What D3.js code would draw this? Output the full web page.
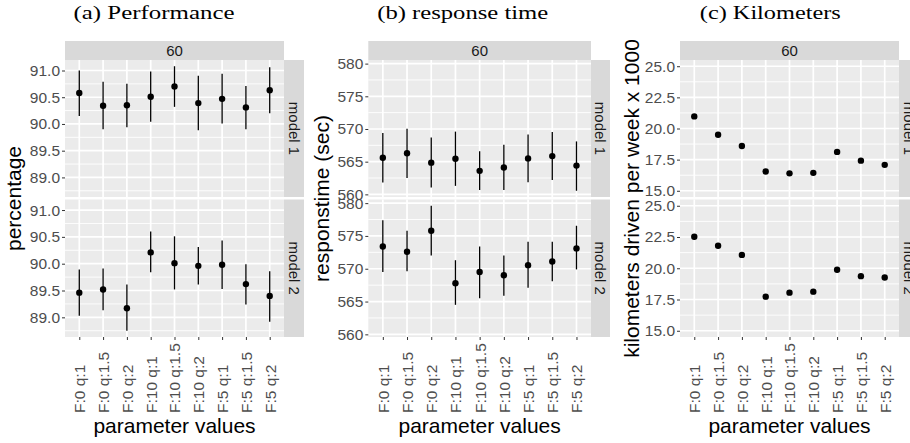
<!DOCTYPE html>
<html>
<head>
<meta charset="utf-8">
<script src="https://cdn.jsdelivr.net/npm/d3@7"></script>
<style>
  body { margin: 0; background: #fff; }
  svg { display: block; font-family: "Liberation Sans", Arial, sans-serif; }
</style>
</head>
<body>
<svg width="910" height="443"></svg>
<script>
// Data.

var categories = ['F:0 q:1', 'F:0 q:1.5', 'F:0 q:2', 'F:10 q:1', 'F:10 q:1.5', 'F:10 q:2', 'F:5 q:1', 'F:5 q:1.5', 'F:5 q:2'];
var models = ['model 1', 'model 2'];

var perfM1   = [90.58, 90.34, 90.35, 90.51, 90.70, 90.39, 90.47, 90.31, 90.63];
var perfM1Lo = [90.15, 89.90, 89.94, 90.04, 90.32, 89.88, 90.01, 89.90, 90.20];
var perfM1Hi = [91.00, 90.79, 90.75, 90.98, 91.08, 90.90, 90.94, 90.71, 91.06];
var perfM2   = [89.46, 89.52, 89.17, 90.21, 90.01, 89.96, 89.98, 89.62, 89.40];
var perfM2Lo = [89.03, 89.13, 88.75, 89.84, 89.52, 89.61, 89.53, 89.24, 88.92];
var perfM2Hi = [89.89, 89.91, 89.61, 90.60, 90.51, 90.31, 90.43, 89.99, 89.86];

var respM1   = [565.6, 566.3, 564.85, 565.45, 563.6, 564.1, 565.5, 565.85, 564.4];
var respM1Lo = [561.8, 562.5, 561.05, 561.3, 560.65, 560.65, 561.85, 562.2, 560.55];
var respM1Hi = [569.4, 570.05, 568.7, 569.6, 566.6, 567.6, 569.15, 569.55, 568.1];
var respM2   = [573.4, 572.6, 575.8, 567.8, 569.5, 569.0, 570.55, 571.1, 573.1];
var respM2Lo = [569.5, 569.6, 572.0, 564.5, 565.5, 565.9, 567.1, 568.1, 569.9];
var respM2Hi = [577.4, 575.8, 579.6, 571.3, 573.4, 572.0, 574.1, 574.1, 576.55];

var kmM1   = [20.97, 19.50, 18.60, 16.55, 16.40, 16.44, 18.12, 17.42, 17.08];
var kmM1Lo = [20.82, 19.36, 18.44, 16.41, 16.26, 16.30, 17.97, 17.28, 16.93];
var kmM1Hi = [21.12, 19.64, 18.76, 16.69, 16.54, 16.58, 18.27, 17.56, 17.23];
var kmM2   = [22.52, 21.80, 21.07, 17.73, 18.05, 18.13, 19.88, 19.37, 19.26];
var kmM2Lo = [22.30, 21.60, 20.85, 17.52, 17.85, 17.93, 19.66, 19.17, 19.06];
var kmM2Hi = [22.74, 22.00, 21.29, 17.94, 18.25, 18.33, 20.10, 19.57, 19.46];

var perfTicks = [89.0, 89.5, 90.0, 90.5, 91.0];
var respTicks = [560, 565, 570, 575, 580];
var kmTicks = [15.0, 17.5, 20.0, 22.5, 25.0];
var kmLimits = [15, 25];

// Layout (pixels)

var svg = d3.select('svg');
var rows = [{top: 60, bottom: 197}, {top: 199.5, bottom: 337}];
var stripTop = 41;

function pack(mean, lo, hi) {
 return categories.map(function(c, i) { return {cat: c, y: mean[i], lo: lo[i], hi: hi[i]}; });
}

var charts = [
 {left: 65, right: 284, stripEnd: 304, title: '(a) Performance', titleX: 154, titleLen: 161,
  ytitle: 'percentage', ytitleX: 20.5, ticks: perfTicks, fmt: d3.format('.1f'),
  series: [pack(perfM1, perfM1Lo, perfM1Hi), pack(perfM2, perfM2Lo, perfM2Hi)]},
 {left: 368.3, right: 591, stripEnd: 610, title: '(b) response time', titleX: 462.7, titleLen: 171,
  ytitle: 'responstime (sec)', ytitleX: 329, ticks: respTicks, fmt: d3.format('d'),
  series: [pack(respM1, respM1Lo, respM1Hi), pack(respM2, respM2Lo, respM2Hi)]},
 {left: 680, right: 899, stripEnd: 919, title: '(c) Kilometers', titleX: 770.3, titleLen: 141,
  ytitle: 'kilometers driven per week x 1000', ytitleX: 638.5, ticks: kmTicks, fmt: d3.format('.1f'),
  limits: kmLimits,
  series: [pack(kmM1, kmM1Lo, kmM1Hi), pack(kmM2, kmM2Lo, kmM2Hi)]}
];

charts.forEach(function(ch) {
 var g = svg.append('g');

 // y domain: data (or fixed limits) plus ggplot's 5% expansion
 var all = ch.series[0].concat(ch.series[1]);
 var lim = ch.limits || [d3.min(all, function(d) { return d.lo; }), d3.max(all, function(d) { return d.hi; })];
 var pad = (lim[1] - lim[0]) * 0.05;
 var dom = [lim[0] - pad, lim[1] + pad];
 var step = ch.ticks[1] - ch.ticks[0];
 var minor = [];
 for (var k = -1; k < ch.ticks.length; k++) {
  var v = ch.ticks[0] + (k + 0.5) * step;
  if (v > dom[0] && v < dom[1]) minor.push(v);
 }

 var x = d3.scalePoint().domain(categories).range([ch.left, ch.right]).padding(0.6);

 // title
 g.append('text')
  .attr('x', ch.titleX).attr('y', 19)
  .attr('text-anchor', 'middle')
  .attr('textLength', ch.titleLen).attr('lengthAdjust', 'spacingAndGlyphs')
  .style('font-family', '"Liberation Serif", "Times New Roman", serif')
  .style('font-size', '18.5px').attr('fill', '#000')
  .text(ch.title);

 // top strip
 g.append('rect').attr('x', ch.left).attr('y', stripTop)
  .attr('width', ch.right - ch.left).attr('height', rows[0].top - stripTop).attr('fill', '#D9D9D9');
 g.append('text').attr('x', (ch.left + ch.right) / 2).attr('y', (stripTop + rows[0].top) / 2)
  .attr('dy', '0.35em').attr('text-anchor', 'middle')
  .style('font-size', '15px').attr('fill', '#1A1A1A').text('60');

 rows.forEach(function(r, ri) {
  var y = d3.scaleLinear().domain(dom).range([r.bottom, r.top]);
  var pg = g.append('g');

  pg.append('rect').attr('x', ch.left).attr('y', r.top)
   .attr('width', ch.right - ch.left).attr('height', r.bottom - r.top).attr('fill', '#EBEBEB');

  pg.selectAll('.minor').data(minor).enter().append('line')
   .attr('x1', ch.left).attr('x2', ch.right)
   .attr('y1', function(d) { return y(d); }).attr('y2', function(d) { return y(d); })
   .attr('stroke', '#fff').attr('stroke-width', 0.9);

  pg.selectAll('.major').data(ch.ticks).enter().append('line')
   .attr('x1', ch.left).attr('x2', ch.right)
   .attr('y1', function(d) { return y(d); }).attr('y2', function(d) { return y(d); })
   .attr('stroke', '#fff').attr('stroke-width', 1.7);

  pg.selectAll('.vgrid').data(categories).enter().append('line')
   .attr('x1', function(d) { return x(d); }).attr('x2', function(d) { return x(d); })
   .attr('y1', r.top).attr('y2', r.bottom)
   .attr('stroke', '#fff').attr('stroke-width', 1.7);

  // right strip
  pg.append('rect').attr('x', ch.right).attr('y', r.top)
   .attr('width', ch.stripEnd - ch.right).attr('height', r.bottom - r.top).attr('fill', '#D9D9D9');
  pg.append('text')
   .attr('transform', 'translate(' + ((ch.right + ch.stripEnd) / 2) + ',' + ((r.top + r.bottom) / 2) + ') rotate(90)')
   .attr('dy', '0.35em').attr('text-anchor', 'middle')
   .style('font-size', '15px').attr('fill', '#1A1A1A').text(models[ri]);

  // pointranges
  var pts = ch.series[ri];
  pg.selectAll('.bar').data(pts).enter().append('line')
   .attr('x1', function(d) { return x(d.cat); }).attr('x2', function(d) { return x(d.cat); })
   .attr('y1', function(d) { return y(d.lo); }).attr('y2', function(d) { return y(d.hi); })
   .attr('stroke', '#000').attr('stroke-width', 1.3);
  pg.selectAll('.pt').data(pts).enter().append('circle')
   .attr('cx', function(d) { return x(d.cat); }).attr('cy', function(d) { return y(d.y); })
   .attr('r', 3.2).attr('fill', '#000');

  // y axis
  var ax = pg.append('g').attr('transform', 'translate(' + ch.left + ',0)')
   .call(d3.axisLeft(y).tickValues(ch.ticks).tickFormat(ch.fmt).tickSize(3).tickPadding(2));
  ax.select('.domain').remove();
  ax.selectAll('line').attr('stroke', '#333');
  ax.selectAll('text').attr('fill', '#4D4D4D').style('font-size', '15.5px')
   .style('font-family', '"Liberation Sans", Arial, sans-serif');
 });

 // x axis under the bottom panel
 var xa = g.append('g').attr('transform', 'translate(0,' + rows[1].bottom + ')')
  .call(d3.axisBottom(x).tickSize(3));
 xa.select('.domain').remove();
 xa.selectAll('line').attr('stroke', '#333');
 xa.selectAll('text')
  .attr('x', 0).attr('y', 0).attr('dy', '0.35em')
  .attr('transform', 'translate(0,76) rotate(-90)')
  .attr('text-anchor', 'start')
  .attr('fill', '#4D4D4D').style('font-size', '15.5px')
  .style('font-family', '"Liberation Sans", Arial, sans-serif');

 // axis titles
 g.append('text').attr('x', (ch.left + ch.right) / 2).attr('y', 433)
  .attr('text-anchor', 'middle').style('font-size', '21px').attr('fill', '#000')
  .text('parameter values');
 g.append('text')
  .attr('transform', 'translate(' + ch.ytitleX + ',' + ((rows[0].top + rows[1].bottom) / 2) + ') rotate(-90)')
  .attr('text-anchor', 'middle').style('font-size', '21px').attr('fill', '#000')
  .text(ch.ytitle);
});
</script>
</body>
</html>
